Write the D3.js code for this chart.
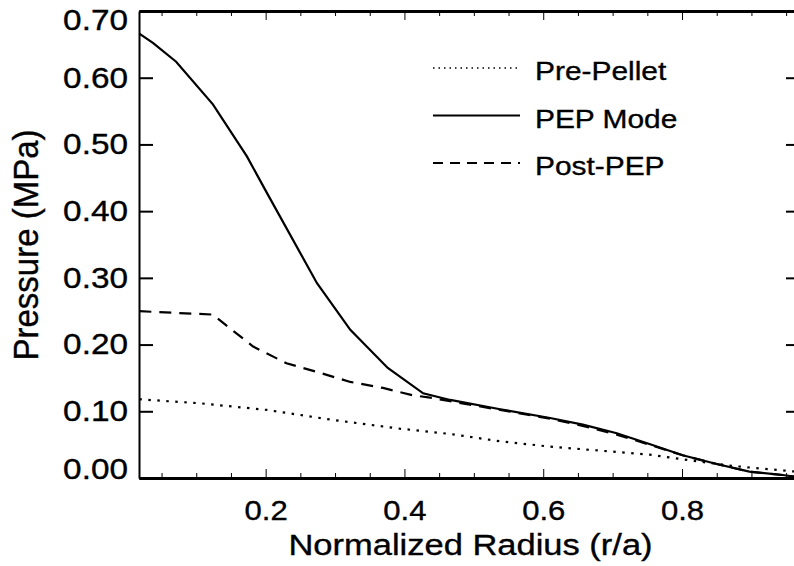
<!DOCTYPE html>
<html>
<head>
<meta charset="utf-8">
<script src="https://d3js.org/d3.v7.min.js"></script>
<style>
  body { margin:0; background:#fff; }
  svg { display:block; overflow:hidden; }
  text { font-family:"Liberation Sans", Arial, sans-serif; fill:#000; stroke:#000; stroke-width:0.35px; }
</style>
</head>
<body>
<svg id="drawing_region"></svg>
<script>
  // series names (legend order)
  var series_names = ['Pre-Pellet', 'PEP Mode', 'Post-PEP'];

  // Pre-Pellet
  var pre_radius   = [0.018, 0.105, 0.202, 0.297, 0.393, 0.466, 0.538, 0.610, 0.682, 0.753, 0.801, 0.873, 0.970];
  var pre_pressure = [0.118, 0.112, 0.102, 0.087, 0.074, 0.066, 0.055, 0.047, 0.041, 0.035, 0.028, 0.018, 0.009];

  // PEP Mode
  var pep_radius   = [0.018, 0.038, 0.071, 0.124, 0.173, 0.202, 0.274, 0.322, 0.376, 0.427, 0.466, 0.538, 0.610, 0.657, 0.706, 0.753, 0.801, 0.850, 0.897, 0.945, 0.970];
  var pep_pressure = [0.666, 0.652, 0.624, 0.560, 0.482, 0.427, 0.292, 0.222, 0.165, 0.127, 0.117, 0.103, 0.090, 0.080, 0.067, 0.051, 0.034, 0.021, 0.0095, 0.0045, 0.001];

  // Post-PEP
  var post_radius   = [0.018, 0.124, 0.137, 0.182, 0.230, 0.274, 0.322, 0.369, 0.412, 0.440, 0.466, 0.538, 0.610, 0.657, 0.706, 0.753, 0.801, 0.850, 0.897, 0.945, 0.970];
  var post_pressure = [0.250, 0.245, 0.234, 0.197, 0.172, 0.159, 0.144, 0.135, 0.124, 0.120, 0.115, 0.102, 0.089, 0.078, 0.065, 0.050, 0.034, 0.021, 0.0095, 0.0045, 0.001];

  // ticks
  var x_major_ticks = [0.2, 0.4, 0.6, 0.8];
  var x_minor_ticks = [0.05, 0.1, 0.15, 0.25, 0.3, 0.35, 0.45, 0.5, 0.55, 0.65, 0.7, 0.75, 0.85, 0.9, 0.95];
  var y_ticks = [0.0, 0.1, 0.2, 0.3, 0.4, 0.5, 0.6, 0.7];

  var data = [
      { name: series_names[0], dash: '2.5,6.5', legend_dash: '1.5,4', points: pre_radius.map((r,i) => ({r:r, p:pre_pressure[i]})) },
      { name: series_names[1], dash: null,      legend_dash: null,    points: pep_radius.map((r,i) => ({r:r, p:pep_pressure[i]})) },
      { name: series_names[2], dash: '12,8',    legend_dash: '10,7',  points: post_radius.map((r,i) => ({r:r, p:post_pressure[i]})) }
  ];

  // the scanned figure is a bit wider than tall, so text is stretched a little
  var sx = 1.15;

  class LineChart {

      constructor( config, data ) {
          this.config = {
              parent: config.parent,
              width: config.width || 794,
              height: config.height || 566,
              margin: config.margin || {top:11, right:-6, bottom:88, left:139}
          }
          this.data = data;
          this.init();
      }

      init() {
          let self = this;
          self.svg = d3.select( self.config.parent )
              .attr('width', self.config.width)
              .attr('height', self.config.height);

          self.chart = self.svg.append('g')
              .attr('transform', `translate(${self.config.margin.left}, ${self.config.margin.top})`);

          self.inner_width = self.config.width - self.config.margin.left - self.config.margin.right;
          self.inner_height = self.config.height - self.config.margin.top - self.config.margin.bottom;

          self.xscale = d3.scaleLinear()
              .domain( [0.0175, 0.97] )
              .range( [0, self.inner_width] );

          self.yscale = d3.scaleLinear()
              .domain( [0, 0.7] )
              .range( [self.inner_height, 0] );

          self.line = d3.line()
              .x( d => self.xscale(d.r) )
              .y( d => self.yscale(d.p) );
      }

      update() {
          let self = this;
          self.render();
      }

      render() {
          let self = this;
          let h = self.inner_height, w = self.inner_width;

          // curves
          self.chart.selectAll('path.curve')
              .data(self.data)
              .enter()
              .append('path')
              .attr('class', 'curve')
              .attr('d', d => self.line(d.points))
              .attr('fill', 'none')
              .attr('stroke', '#000')
              .attr('stroke-width', 2.2)
              .attr('stroke-dasharray', d => d.dash);

          // bottom axis, minor then major
          self.chart.append('g')
              .attr('transform', `translate(0, ${h})`)
              .call( d3.axisBottom(self.xscale).tickValues(x_minor_ticks).tickSize(-5).tickSizeOuter(0).tickFormat('') )
              .call( g => g.select('.domain').remove() );
          let xg = self.chart.append('g')
              .attr('transform', `translate(0, ${h})`)
              .call( d3.axisBottom(self.xscale).tickValues(x_major_ticks).tickSize(-9).tickSizeOuter(0)
                     .tickPadding(23).tickFormat(d3.format('.1f')) );
          xg.select('.domain').attr('stroke-width', 3);
          xg.selectAll('text')
              .attr('font-size', 27)
              .attr('transform', `scale(${sx},1)`)
              .attr('x', 0);

          // top axis
          self.chart.append('g')
              .call( d3.axisTop(self.xscale).tickValues(x_minor_ticks).tickSize(-5).tickSizeOuter(0).tickFormat('') )
              .call( g => g.select('.domain').remove() );
          self.chart.append('g')
              .call( d3.axisTop(self.xscale).tickValues(x_major_ticks).tickSize(-9).tickSizeOuter(0).tickFormat('') )
              .select('.domain').attr('stroke-width', 3);

          // left axis
          let yg = self.chart.append('g')
              .call( d3.axisLeft(self.yscale).tickValues(y_ticks).tickSize(-14).tickSizeOuter(0)
                     .tickPadding(11).tickFormat(d3.format('.2f')) );
          yg.select('.domain').attr('stroke-width', 2);
          yg.selectAll('.tick line').attr('stroke-width', 2);
          yg.selectAll('text')
              .attr('font-size', 29)
              .attr('x', -11 / sx)
              .attr('transform', d => {
                  let dy = d == 0.7 ? 9 : (d == 0 ? -9 : 0);
                  return `translate(0, ${dy}) scale(${sx},1)`;
              });

          // right axis
          let rg = self.chart.append('g')
              .attr('transform', `translate(${w}, 0)`)
              .call( d3.axisRight(self.yscale).tickValues(y_ticks).tickSize(-14).tickSizeOuter(0).tickFormat('') );
          rg.select('.domain').attr('stroke-width', 2);
          rg.selectAll('.tick line').attr('stroke-width', 2);

          // axis titles
          self.svg.append('text')
              .attr('transform', `translate(470.5, 555) scale(${sx},1)`)
              .attr('text-anchor', 'middle')
              .attr('font-size', 30)
              .text('Normalized Radius (r/a)');

          self.svg.append('text')
              .attr('transform', `translate(38, 245) scale(1.08,1) rotate(-90)`)
              .attr('text-anchor', 'middle')
              .attr('font-size', 33)
              .text('Pressure (MPa)');

          // legend
          let legend = self.svg.append('g')
              .attr('transform', 'translate(433, 68)');
          let rows = legend.selectAll('g')
              .data(self.data)
              .enter()
              .append('g')
              .attr('transform', (d,i) => `translate(0, ${i*47.5})`);
          rows.append('line')
              .attr('x1', 0).attr('x2', 87)
              .attr('stroke', '#000')
              .attr('stroke-width', d => d.legend_dash == '1.5,4' ? 1.6 : 2)
              .attr('stroke-dasharray', d => d.legend_dash);
          rows.append('text')
              .attr('transform', `translate(102, 12) scale(${sx},1)`)
              .attr('font-size', 26)
              .text(d => d.name);
      }
  }

  var config = {
      parent: '#drawing_region',
      width: 794,
      height: 566,
      margin: {top:11, right:-6, bottom:88, left:139}
  };

  const line_chart = new LineChart( config, data );
  line_chart.update();
</script>
</body>
</html>
